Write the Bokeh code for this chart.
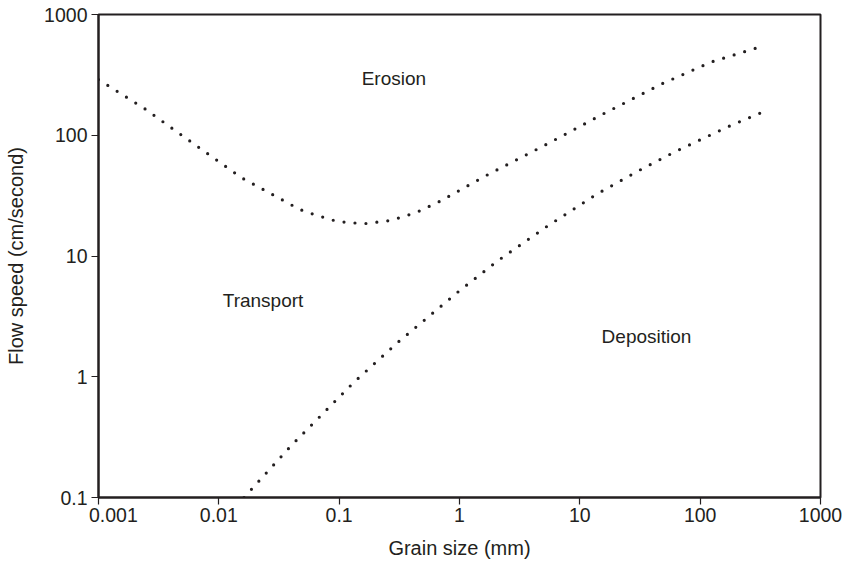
from bokeh.plotting import figure
from bokeh.models import FixedTicker, CustomJSTickFormatter, LogAxis, ColumnDataSource
from bokeh.core.properties import value
from bokeh.embed import file_html
from bokeh.resources import INLINE

# Erosion threshold (upper dotted curve)
upper_x = [0.001, 0.00241, 0.00677, 0.0155, 0.047, 0.0599, 0.0966, 0.161, 0.268, 0.432,
           0.684, 1.647, 5.12, 15.7, 48.6, 124, 327]
upper_y = [289, 166.5, 79.6, 44.4, 24.3, 22.3, 19.3, 18.5, 19.7, 22.8,
           28.3, 46.1, 82.7, 150.5, 268, 405, 546]

# Deposition threshold (lower dotted curve)
lower_x = [0.0162, 0.0398, 0.1328, 0.308, 0.989, 2.11, 5.36, 13.95, 32.1, 63.1, 177, 353]
lower_y = [0.1, 0.268, 0.902, 1.93, 5.11, 9.23, 17.65, 32.7, 52, 73.8, 119.7, 160]

region_names = ["Erosion", "Transport", "Deposition"]
region_x = [0.285, 0.0233, 35.8]
region_y = [293, 4.28, 2.17]

x_ticks = [0.001, 0.01, 0.1, 1, 10, 100, 1000]
# the first x label is printed a little right of its tick (as in the original)
x_label_pos = [0.00133, 0.01, 0.1, 1, 10, 100, 1000]
y_ticks = [0.1, 1, 10, 100, 1000]

FONT = "Liberation Sans"
INK = "#231f20"

p = figure(width=842, height=566, x_axis_type="log", y_axis_type="log",
           x_range=(0.001, 1000), y_range=(0.1, 1000),
           output_backend="svg", toolbar_location=None,
           min_border_left=98, min_border_right=22, min_border_top=14, min_border_bottom=69)

p.grid.visible = False
p.outline_line_color = INK
p.outline_line_width = 2
p.background_fill_color = "white"
p.border_fill_color = "white"

# x axis A: line and tick marks only
xa = p.xaxis[0]
xa.ticker = FixedTicker(ticks=x_ticks)
xa.formatter = CustomJSTickFormatter(code="return '';")
xa.major_label_text_font_size = "1px"
xa.major_label_standoff = 0

# x axis B: labels and title
xb = LogAxis(ticker=FixedTicker(ticks=x_label_pos),
             formatter=CustomJSTickFormatter(code="return tick < 0.002 ? '0.001' : tick.toString();"))
p.add_layout(xb, "below")
xb.axis_line_color = None
xb.major_tick_out = 0
xb.major_tick_in = 0
xb.major_label_standoff = 3
xb.axis_label_standoff = 12

yax = p.yaxis[0]
yax.ticker = FixedTicker(ticks=y_ticks)
yax.formatter = CustomJSTickFormatter(code="return tick.toString();")
yax.major_label_standoff = 4

for ax in (xa, yax):
    ax.axis_line_color = INK
    ax.axis_line_width = 2
    ax.major_tick_line_color = INK
    ax.major_tick_line_width = 1.2
    ax.major_tick_out = 7
    ax.major_tick_in = 0
for ax in (xa, xb, yax):
    ax.minor_tick_line_color = None
    ax.major_label_text_font = FONT
    ax.major_label_text_color = INK
    ax.axis_label_text_font = FONT
    ax.axis_label_text_font_size = "20px"
    ax.axis_label_text_font_style = "normal"
    ax.axis_label_text_color = INK
xb.major_label_text_font_size = "19.5px"
yax.major_label_text_font_size = "19.5px"

xb.axis_label = "Grain size (mm)"
yax.axis_label = "Flow speed (cm/second)"
yax.axis_label_standoff = 14

p.line(upper_x, upper_y, line_color=INK, line_width=3.2, line_dash="0 11", line_cap="round")
p.line(lower_x, lower_y, line_color=INK, line_width=3.2, line_dash="0 11", line_cap="round")

src = ColumnDataSource(dict(x=region_x, y=region_y, t=region_names))
p.text(x="x", y="y", text="t", source=src, text_align="center", text_baseline="middle",
       text_font=value(FONT), text_font_size="19px", text_color=INK)

open("out.html", "w").write(file_html(p, INLINE))
